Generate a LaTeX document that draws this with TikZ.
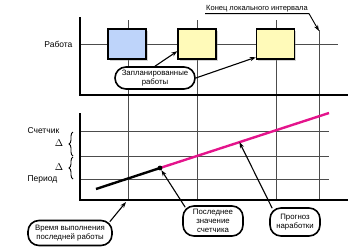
\documentclass[tikz,border=0pt]{standalone}
\usepackage{fontspec}
\setmainfont{Liberation Sans}
\usetikzlibrary{arrows.meta,calc,shadows,decorations.pathreplacing}
\definecolor{jobblue}{RGB}{190,212,250}
\definecolor{jobyellow}{RGB}{255,250,185}
\definecolor{trendpink}{RGB}{228,20,140}

\begin{document}
\begin{tikzpicture}[x=1pt, y=-1pt,
    >={Stealth[length=6pt,width=4.2pt]},
    axis/.style={line width=2.6pt},
    gridline/.style={draw=black!70, line width=0.5pt},
    job/.style={draw, line width=1.3pt, minimum width=38pt, minimum height=30pt,
      drop shadow={shadow xshift=1.5pt, shadow yshift=-1.5pt, opacity=0.35}},
    callout/.style={draw, line width=1.6pt, rounded corners=11pt, align=center,
      font=\fontsize{7.8}{9.2}\selectfont, fill=white, inner sep=1pt},
    pointer/.style={->, line width=1.1pt},
    lbl/.style={font=\fontsize{8.5}{10}\selectfont},
    delta/.style={decorate, decoration={brace, amplitude=4pt}, line width=0.9pt}
  ]
  \useasboundingbox (0,0) rectangle (353,250);

  % Grid
  \foreach \x in {128,197,276}
    \draw[gridline] (\x,20) -- (\x,200);
  \draw[gridline] (319,30) -- (319,200);
  \draw[gridline] (80,44) -- (338,44);
  \foreach \y in {131,156,179}
    \draw[gridline] (80,\y) -- (329,\y);

  % Work chart
  \draw[axis] (80,17) -- (80,95) -- (348,95);
  \node[lbl, anchor=east] (work) at (76,44) {Работа};
  \node[job, fill=jobblue] (done) at (127,44) {};
  \node[job, fill=jobyellow] (planA) at (197,44) {};
  \node[job, fill=jobyellow] (planB) at (275.5,44) {};
  \node[callout, minimum width=80pt, minimum height=22pt] (plan) at (155,78)
    {Запланированные\\работы};
  \draw[pointer] (plan.north) -- (planA.200);
  \draw[pointer] (plan.east) -- (planB.214);

  % End of interval
  \coordinate (endtip) at (319,31);
  \node[font=\fontsize{7.5}{9}\selectfont, inner sep=1pt] (endlbl) at (257,9)
    {Конец локального интервала};
  \draw[line width=0.9pt, ->] (endlbl.south west) -- (endlbl.south east) -- (endtip);

  % Counter chart
  \draw[axis] (80,113) -- (80,200) -- (348,200);
  \node[lbl, anchor=west] (counter) at (24,131) {Счетчик};
  \node[lbl, anchor=west] (period) at (24,179) {Период};
  \draw[delta] (73,156) -- (73,132);
  \draw[delta] (73,179) -- (73,157);
  \node (dA) at (59,143) {$\Delta$};
  \node (dB) at (59,167) {$\Delta$};

  \coordinate (trendstart) at (96,189);
  \coordinate (lastpt) at (160,168);
  \coordinate (trendend) at (329,113);
  \draw[line width=2.4pt] (trendstart) -- (lastpt);
  \draw[line width=2.4pt, draw=trendpink] (lastpt) -- (trendend);
  \node[circle, fill, inner sep=1.7pt] (lastval) at (lastpt) {};
  \coordinate (fcpt) at ($(lastpt)!0.47!(trendend)$);
  \coordinate (lastjob) at (126,202);

  % Callouts
  \node[callout, minimum width=84pt, minimum height=25pt] (lasttime) at (70,233)
    {Время выполнения\\последней работы};
  \node[callout, minimum width=60pt, minimum height=30pt] (lastbox) at (213,221)
    {Последнее\\значение\\счетчика};
  \node[callout, minimum width=50pt, minimum height=28pt] (fc) at (295,222)
    {Прогноз\\наработки};
  \draw[pointer] ($(lasttime.north east)+(-3,2)$) -- (lastjob);
  \draw[pointer] ($(lastbox.north west)+(3,2)$) -- (lastval);
  \draw[pointer] ($(fc.north west)+(3,1)$) -- (fcpt);
\end{tikzpicture}
\end{document}
